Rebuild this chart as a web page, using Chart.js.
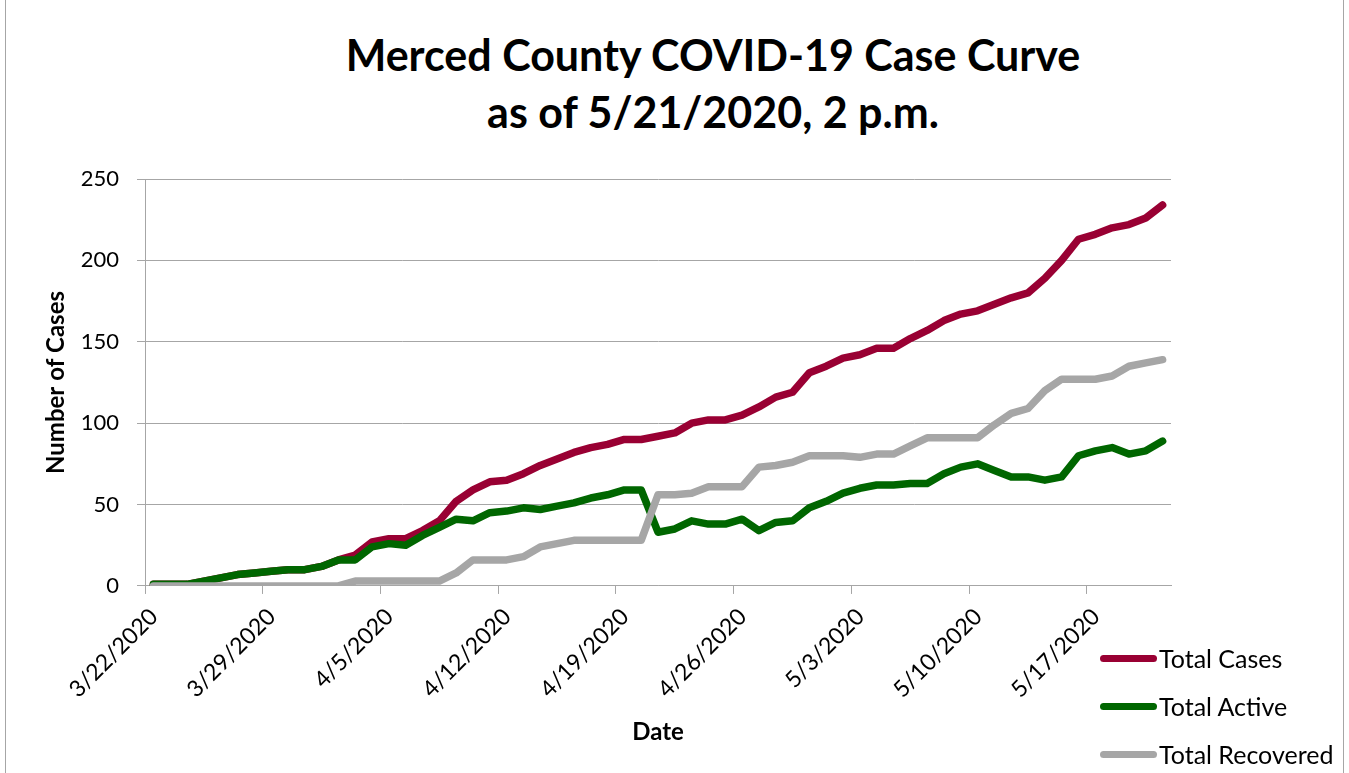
<!DOCTYPE html>
<html>
<head>
<meta charset="utf-8">
<title>Merced County COVID-19 Case Curve</title>
<script src="https://cdn.jsdelivr.net/npm/chart.js@4.4.1/dist/chart.umd.min.js"></script>
<style>
  html, body { margin: 0; padding: 0; background: #fff; }
  #wrap { position: relative; width: 1349px; height: 773px; overflow: hidden; font-family: Lato, "Open Sans", sans-serif; }
  #caseChart { position: absolute; left: 0; top: 0; }
  .frame { position: absolute; top: 0; bottom: 0; width: 1px; background: #a6a6a6; }
  #title { position: absolute; left: 0; width: 1426px; top: 26px; text-align: center;
           font-weight: bold; font-size: 43px; line-height: 57px; color: #000; }
  #legend { position: absolute; left: 1100px; top: 634px; }
  .lg-item { display: flex; align-items: center; height: 48px; font-size: 25px; color: #000; }
  .lg-line { display: inline-block; width: 57px; height: 7px; border-radius: 4px; margin-right: 2px; }
</style>
</head>
<body>
<div id="wrap">
  <div class="frame" style="left:5px"></div>
  <div class="frame" style="left:1343px"></div>
  <div id="title">Merced County COVID-19 Case Curve<br>as of 5/21/2020, 2 p.m.</div>
  <canvas id="caseChart" width="1349" height="773"></canvas>
  <div id="legend"></div>
</div>
<script>
// ── Data ───────────────────────────────────────────────────────────────────
var dates = [
  '3/22/2020','3/23/2020','3/24/2020','3/25/2020','3/26/2020','3/27/2020','3/28/2020',
  '3/29/2020','3/30/2020','3/31/2020','4/1/2020','4/2/2020','4/3/2020','4/4/2020',
  '4/5/2020','4/6/2020','4/7/2020','4/8/2020','4/9/2020','4/10/2020','4/11/2020',
  '4/12/2020','4/13/2020','4/14/2020','4/15/2020','4/16/2020','4/17/2020','4/18/2020',
  '4/19/2020','4/20/2020','4/21/2020','4/22/2020','4/23/2020','4/24/2020','4/25/2020',
  '4/26/2020','4/27/2020','4/28/2020','4/29/2020','4/30/2020','5/1/2020','5/2/2020',
  '5/3/2020','5/4/2020','5/5/2020','5/6/2020','5/7/2020','5/8/2020','5/9/2020',
  '5/10/2020','5/11/2020','5/12/2020','5/13/2020','5/14/2020','5/15/2020','5/16/2020',
  '5/17/2020','5/18/2020','5/19/2020','5/20/2020','5/21/2020'
];

var tickLabels = ['3/22/2020','3/29/2020','4/5/2020','4/12/2020','4/19/2020',
                  '4/26/2020','5/3/2020','5/10/2020','5/17/2020'];

var totalCases = [1,1,1,3,5,7,8,9,10,10,12,16,19,27,29,29,34,40,52,59,64,65,69,74,78,
                  82,85,87,90,90,92,94,100,102,102,105,110,116,119,131,135,140,142,146,146,
                  152,157,163,167,169,173,177,180,189,200,213,216,220,222,226,234];

var totalActive = [1,1,1,3,5,7,8,9,10,10,12,16,16,24,26,25,31,36,41,40,45,46,48,47,49,
                   51,54,56,59,59,33,35,40,38,38,41,34,39,40,48,52,57,60,62,62,
                   63,63,69,73,75,71,67,67,65,67,80,83,85,81,83,89];

var totalRecovered = [0,0,0,0,0,0,0,0,0,0,0,0,3,3,3,3,3,3,8,16,16,16,18,24,26,
                      28,28,28,28,28,56,56,57,61,61,61,73,74,76,80,80,80,79,81,81,
                      86,91,91,91,91,99,106,109,120,127,127,127,129,135,137,139];

var seriesNames  = ['Total Cases', 'Total Active', 'Total Recovered'];
var seriesColors = ['#990033', '#006600', '#a6a6a6'];

// ── Helpers ───────────────────────────────────────────────────────────────
var gridCol = '#a6a6a6';
var fontFam = 'Lato, "Open Sans", sans-serif';

// each day sits in the middle of its slot, ticks mark the slot edges
function toPoints(values) {
  return values.map(function(v, i) { return { x: i + 0.5, y: v }; });
}

function makeDataset(idx, values) {
  return {
    label:           seriesNames[idx],
    data:            toPoints(values),
    borderColor:     seriesColors[idx],
    backgroundColor: seriesColors[idx],
    borderWidth:     7.5,
    borderCapStyle:  'round',
    borderJoinStyle: 'round',
    pointRadius:     0,
    tension:         0,
    fill:            false,
    order:           3 - idx,   // later series drawn on top, like the original
  };
}

// Legend lives in HTML so it can sit under the plot on the right
var htmlLegend = {
  id: 'htmlLegend',
  afterUpdate: function(chart) {
    var box = document.getElementById('legend');
    box.innerHTML = '';
    chart.data.datasets.forEach(function(ds) {
      var row  = document.createElement('div');
      row.className = 'lg-item';
      var line = document.createElement('span');
      line.className = 'lg-line';
      line.style.background = ds.borderColor;
      var txt  = document.createElement('span');
      txt.textContent = ds.label;
      row.appendChild(line);
      row.appendChild(txt);
      box.appendChild(row);
    });
  }
};

// ── Chart ─────────────────────────────────────────────────────────────────
var ctx = document.getElementById('caseChart');
new Chart(ctx, {
  type: 'line',
  data: {
    datasets: [
      makeDataset(0, totalCases),
      makeDataset(1, totalActive),
      makeDataset(2, totalRecovered),
    ]
  },
  plugins: [htmlLegend],
  options: {
    responsive: false,
    animation:  false,
    layout: { padding: { left: 40, right: 178, top: 179, bottom: 22 } },
    plugins: {
      legend:  { display: false },
      tooltip: { enabled: false },
    },
    scales: {
      x: {
        type: 'linear',
        min:  0,
        max:  dates.length,
        afterBuildTicks: function(scale) {
          scale.ticks = tickLabels.map(function(lbl) {
            return { value: dates.indexOf(lbl) };
          });
        },
        // rotated first label may hang left of the axis, don't let it push the plot
        afterFit: function(scale) {
          scale.paddingLeft  = 0;
          scale.paddingRight = 0;
        },
        ticks: {
          color:       '#000',
          font:        { family: fontFam, size: 23 },
          minRotation: 45,
          maxRotation: 45,
          padding:     9,
          labelOffset: 9,
          autoSkip:    false,
          callback:    function(v) { return dates[v]; },
        },
        grid: {
          color:           gridCol,
          drawOnChartArea: false,
          drawTicks:       true,
          tickLength:      8,
        },
        border: { color: gridCol },
        title: {
          display: true,
          text:    'Date',
          color:   '#000',
          font:    { family: fontFam, size: 24, weight: 'bold' },
          padding: { top: 6, bottom: 4 },
        },
      },
      y: {
        min: 0,
        max: 250,
        // pin the axis box so the plot starts where the original's does
        afterFit: function(scale) {
          scale.width = 105;
        },
        ticks: {
          stepSize: 50,
          color:    '#000',
          font:     { family: fontFam, size: 22 },
          padding:  18,
        },
        grid: {
          color:      gridCol,
          tickLength: 8,
        },
        border: { color: gridCol },
        title: {
          display: true,
          text:    'Number of Cases',
          color:   '#000',
          font:    { family: fontFam, size: 24, weight: 'bold' },
          padding: { top: 2, bottom: 10 },
        },
      }
    }
  }
});
</script>
</body>
</html>
